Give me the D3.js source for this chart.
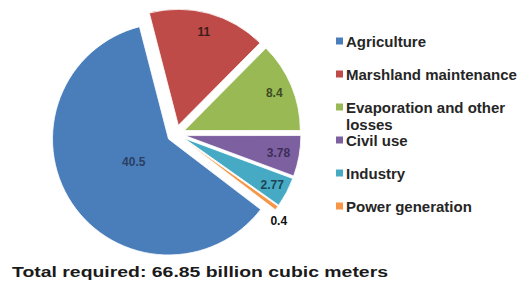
<!DOCTYPE html>
<html>
<head>
<meta charset="utf-8">
<script src="https://cdn.jsdelivr.net/npm/d3@7"></script>
<style>
  html, body { margin: 0; padding: 0; background: #ffffff; }
  svg { display: block; }
  text { font-family: "Liberation Sans", Arial, sans-serif; font-weight: bold; }
</style>
</head>
<body>
<svg id="chart" width="520" height="289"></svg>
<script>
// ---- data ----
const categories = ["Agriculture", "Marshland maintenance", "Evaporation and other losses", "Civil use", "Industry", "Power generation"];
const legendLines = [["Agriculture"], ["Marshland maintenance"], ["Evaporation and other", "losses"], ["Civil use"], ["Industry"], ["Power generation"]];
const values = [40.5, 11, 8.4, 3.78, 2.77, 0.4];
const valueLabels = ["40.5", "11", "8.4", "3.78", "2.77", "0.4"];
const titleText = "Total required: 66.85 billion cubic meters";

// ---- styles / layout ----
const colors = ["#4a7ebb", "#be4b48", "#98b954", "#7d60a0", "#46aac5", "#f79646"];
const labelColors = ["#2b3f62", "#3e1c1c", "#3f4b22", "#3c2e5a", "#1d4452", "#111111"];
const labelRadiusFactor = [0.36, 0.84, 0.84, 0.82, 0.86, 1.08];
const labelAngleShift = [0, 0, 0, 0, 0, 0.07];

const cx = 176, cy = 134, R = 116, explode = 9;
const firstAngle = 127.4 * Math.PI / 180;

const svg = d3.select("#chart");

const pie = d3.pie().sort(null).value(d => d)
  .startAngle(firstAngle).endAngle(firstAngle + 2 * Math.PI);
const arcs = pie(values);
const arc = d3.arc().innerRadius(0).outerRadius(R);

const g = svg.append("g").attr("transform", `translate(${cx},${cy})`);

function dirAt(m) { return [Math.sin(m), -Math.cos(m)]; }
function mid(a) { return (a.startAngle + a.endAngle) / 2; }

const slices = g.selectAll("g.slice").data(arcs).enter().append("g")
  .attr("class", "slice")
  .attr("transform", d => { const u = dirAt(mid(d)); return `translate(${u[0] * explode},${u[1] * explode})`; });

slices.append("path")
  .attr("d", arc)
  .attr("fill", (d, i) => colors[i])
  .attr("stroke", "#ffffff")
  .attr("stroke-width", 0.8);

slices.append("text")
  .attr("x", (d, i) => dirAt(mid(d) + labelAngleShift[i])[0] * R * labelRadiusFactor[i])
  .attr("y", (d, i) => dirAt(mid(d) + labelAngleShift[i])[1] * R * labelRadiusFactor[i])
  .attr("dy", "0.36em")
  .attr("text-anchor", "middle")
  .attr("font-size", 12)
  .attr("fill", (d, i) => labelColors[i])
  .text((d, i) => valueLabels[i]);

// ---- legend ----
const legend = svg.append("g").attr("transform", "translate(336,41)");
const rowH = 33;
const items = legend.selectAll("g.item").data(categories).enter().append("g")
  .attr("class", "item")
  .attr("transform", (d, i) => `translate(0,${i * rowH})`);
items.append("rect")
  .attr("x", 0).attr("y", -3.5).attr("width", 7).attr("height", 7)
  .attr("fill", (d, i) => colors[i]);
items.append("text")
  .attr("x", 10)
  .attr("y", 5.5)
  .attr("font-size", 15)
  .attr("fill", "#262626")
  .selectAll("tspan")
  .data((d, i) => legendLines[i])
  .enter().append("tspan")
  .attr("x", 10)
  .attr("dy", (d, j) => j === 0 ? 0 : 17)
  .text(d => d);

// ---- title ----
svg.append("text")
  .attr("x", 12)
  .attr("y", 277)
  .attr("font-size", 14.5)
  .attr("fill", "#1a1a1a")
  .attr("textLength", 376)
  .attr("lengthAdjust", "spacingAndGlyphs")
  .text(titleText);
</script>
</body>
</html>
